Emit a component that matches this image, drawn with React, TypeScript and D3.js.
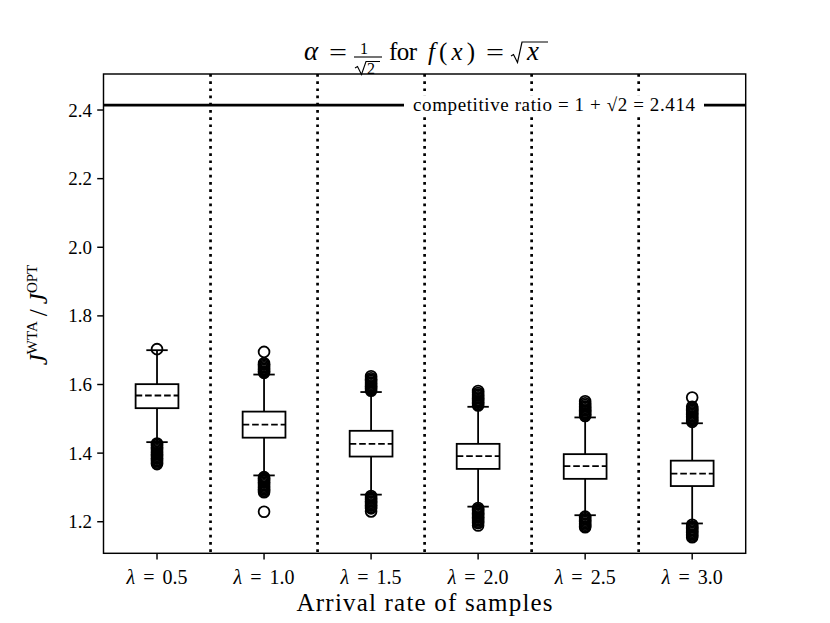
import React from "react";
import * as d3 from "d3";

const categories = ["0.5", "1.0", "1.5", "2.0", "2.5", "3.0"];
const q1 = [1.531, 1.445, 1.39, 1.354, 1.325, 1.304];
const medians = [1.568, 1.483, 1.427, 1.391, 1.362, 1.34];
const q3 = [1.601, 1.521, 1.465, 1.427, 1.397, 1.378];
const whiskerLow = [1.432, 1.335, 1.279, 1.244, 1.219, 1.195];
const whiskerHigh = [1.7, 1.629, 1.578, 1.535, 1.504, 1.487];
const outliersHigh = [
  [1.703],
  [1.634, 1.638, 1.642, 1.646, 1.65, 1.654, 1.658, 1.662, 1.695],
  [1.582, 1.586, 1.59, 1.594, 1.598, 1.602, 1.606, 1.61, 1.614, 1.618, 1.624],
  [1.539, 1.543, 1.547, 1.551, 1.555, 1.559, 1.563, 1.567, 1.571, 1.575, 1.581],
  [1.508, 1.512, 1.516, 1.52, 1.524, 1.528, 1.532, 1.536, 1.54, 1.545, 1.551],
  [1.491, 1.495, 1.499, 1.503, 1.507, 1.511, 1.515, 1.519, 1.523, 1.527, 1.531, 1.535, 1.562],
];
const outliersLow = [
  [1.428, 1.424, 1.42, 1.416, 1.412, 1.408, 1.404, 1.4, 1.396, 1.392, 1.388, 1.384, 1.38, 1.376, 1.372, 1.368],
  [1.33, 1.326, 1.322, 1.318, 1.314, 1.31, 1.306, 1.302, 1.298, 1.294, 1.29, 1.286, 1.229],
  [1.275, 1.271, 1.267, 1.263, 1.259, 1.255, 1.251, 1.247, 1.243, 1.239, 1.23],
  [1.24, 1.236, 1.232, 1.228, 1.224, 1.22, 1.216, 1.212, 1.208, 1.204, 1.2, 1.196, 1.189],
  [1.215, 1.211, 1.207, 1.203, 1.199, 1.195, 1.191, 1.187, 1.184],
  [1.191, 1.187, 1.183, 1.179, 1.175, 1.171, 1.167, 1.163, 1.159, 1.155],
];
const yTicks = [1.2, 1.4, 1.6, 1.8, 2.0, 2.2, 2.4];
const competitiveRatio = 2.414;
const ratioLabel = "competitive ratio = 1 + √2 = 2.414";
const separators = [1.5, 2.5, 3.5, 4.5, 5.5];

const FONT = "'Liberation Serif', 'DejaVu Serif', serif";

export default function App() {
  const W = 830, H = 623;
  const left = 103.5, right = 745.7, top = 74, bottom = 553.3;
  const x = d3.scaleLinear().domain([0.5, 6.5]).range([left, right]);
  const y = d3.scaleLinear().domain([1.108, 2.505]).range([bottom, top]);
  const boxW = x(0.4) - x(0);
  const capW = boxW / 2;
  const lw = 1.8;

  const radical = (x0: number, yb: number, yt: number, len: number) =>
    `M${x0},${yb - 6} L${x0 + 2.5},${yb - 7.5} L${x0 + 6.5},${yb + 0.5} L${x0 + 11},${yt} L${x0 + 11 + len},${yt}`;

  return (
    <svg width={W} height={H} style={{ position: "absolute", left: 0, top: 0, background: "#fff" }} fontFamily={FONT}>
      <rect x={0} y={0} width={W} height={H} fill="#fff" />
      {separators.map((s, i) => (
        <line key={"s" + i} x1={x(s)} x2={x(s)} y1={top} y2={bottom} stroke="#000" strokeWidth={2.7} strokeDasharray="2.7,4.5" />
      ))}
      {categories.map((c, i) => {
        const cx = x(i + 1);
        return (
          <g key={"b" + i}>
            <line x1={cx} x2={cx} y1={y(q1[i])} y2={y(whiskerLow[i])} stroke="#000" strokeWidth={lw} />
            <line x1={cx} x2={cx} y1={y(q3[i])} y2={y(whiskerHigh[i])} stroke="#000" strokeWidth={lw} />
            <line x1={cx - capW / 2} x2={cx + capW / 2} y1={y(whiskerLow[i])} y2={y(whiskerLow[i])} stroke="#000" strokeWidth={lw} />
            <line x1={cx - capW / 2} x2={cx + capW / 2} y1={y(whiskerHigh[i])} y2={y(whiskerHigh[i])} stroke="#000" strokeWidth={lw} />
            <rect x={cx - boxW / 2} y={y(q3[i])} width={boxW} height={y(q1[i]) - y(q3[i])} fill="#fff" stroke="#000" strokeWidth={lw} />
            <line x1={cx - boxW / 2} x2={cx + boxW / 2} y1={y(medians[i])} y2={y(medians[i])} stroke="#000" strokeWidth={lw} strokeDasharray="6.6,2.9" />
            {outliersHigh[i].concat(outliersLow[i]).map((v, j) => (
              <circle key={j} cx={cx} cy={y(v)} r={5.4} fill="none" stroke="#000" strokeWidth={1.8} />
            ))}
          </g>
        );
      })}
      <line x1={left} x2={right} y1={y(competitiveRatio)} y2={y(competitiveRatio)} stroke="#000" strokeWidth={2.7} />
      <rect x={404} y={y(competitiveRatio) - 10} width={300} height={20} fill="#fff" />
      <text x={554} y={y(competitiveRatio) + 5.5} textAnchor="middle" fontSize={19} textLength={282} lengthAdjust="spacing" xmlSpace="preserve">
        {ratioLabel}
      </text>
      <rect x={left} y={top} width={right - left} height={bottom - top} fill="none" stroke="#000" strokeWidth={1.45} />
      {yTicks.map((t) => (
        <g key={"yt" + t}>
          <line x1={left - 6.3} x2={left} y1={y(t)} y2={y(t)} stroke="#000" strokeWidth={1.45} />
          <text x={92} y={y(t) + 6.5} textAnchor="end" fontSize={19}>{t.toFixed(1)}</text>
        </g>
      ))}
      {categories.map((c, i) => (
        <g key={"xt" + i}>
          <line x1={x(i + 1)} x2={x(i + 1)} y1={bottom} y2={bottom + 6.3} stroke="#000" strokeWidth={1.45} />
          <text x={x(i + 1)} y={584} textAnchor="middle" fontSize={20}>
            <tspan fontStyle="italic">λ</tspan>
            <tspan dx={8}>=</tspan>
            <tspan dx={8}>{c}</tspan>
          </text>
        </g>
      ))}
      <text x={(left + right) / 2} y={611} textAnchor="middle" fontSize={25} textLength={256} lengthAdjust="spacing">
        Arrival rate of samples
      </text>
      <g transform="translate(47,315) rotate(-90)">
        <text x={0} y={0} textAnchor="middle" fontSize={25}>
          <tspan fontStyle="italic">J</tspan>
          <tspan fontSize={15} dy={-10}>WTA</tspan>
          <tspan dy={10} dx={5}>/</tspan>
          <tspan fontStyle="italic" dx={5}>J</tspan>
          <tspan fontSize={15} dy={-10}>OPT</tspan>
        </text>
      </g>
      <g fontSize={25}>
        <text x={304} y={60} fontStyle="italic" fontSize={27}>α</text>
        <text x={329} y={61} textLength={18} lengthAdjust="spacingAndGlyphs">=</text>
        <text x={364} y={54} textAnchor="middle" fontSize={16}>1</text>
        <line x1={354} x2={382} y1={57} y2={57} stroke="#000" strokeWidth={1.1} />
        <path d={radical(355, 74, 61.5, 14)} fill="none" stroke="#000" strokeWidth={1.1} />
        <text x={367} y={74} fontSize={16}>2</text>
        <text x={389} y={60} textLength={28} lengthAdjust="spacing">for</text>
        <text x={428} y={60} textLength={47} lengthAdjust="spacing">
          <tspan fontStyle="italic">f</tspan>(<tspan fontStyle="italic">x</tspan>)
        </text>
        <text x={486} y={61} textLength={18} lengthAdjust="spacingAndGlyphs">=</text>
        <path d={radical(511, 62, 42, 26)} fill="none" stroke="#000" strokeWidth={1.2} />
        <text x={527} y={60} fontStyle="italic" fontSize={27}>x</text>
      </g>
    </svg>
  );
}
